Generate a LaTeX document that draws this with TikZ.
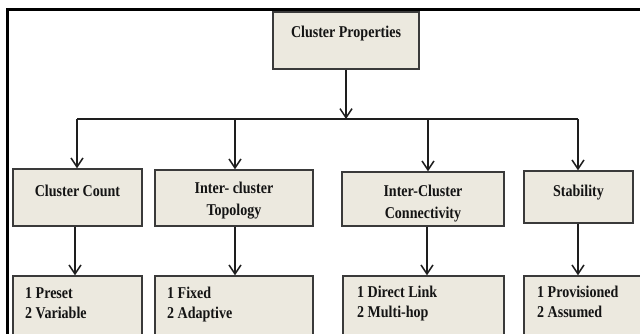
\documentclass[tikz,border=0pt]{standalone}
\usepackage{fontspec}
\setmainfont[FakeStretch=0.85]{Liberation Serif}
\usetikzlibrary{arrows.meta}
\definecolor{boxfill}{HTML}{ECE9DF}
\definecolor{boxline}{HTML}{3A3A3A}
\definecolor{arr}{HTML}{1E1E1E}
\definecolor{txt}{HTML}{141414}
\begin{document}
\begin{tikzpicture}[x=1pt,y=-1pt,
  box/.style={draw=boxline, line width=1.4pt, fill=boxfill, inner sep=0pt},
  lbl/.style={inner sep=0pt, font=\fontsize{16.5}{18}\selectfont\bfseries, text=txt},
  conn/.style={draw=arr, line width=1.5pt},
  arrow/.style={conn, -{Straight Barb[length=9pt,width=12pt,line width=1.5pt]}},
  frame/.style={draw=black, line width=3pt}]
\useasboundingbox (0,0) rectangle (640,333);
\clip (0,0) rectangle (640,333);
\fill[white] (0,0) rectangle (640,333);

% outer frame (left and top edges)
\coordinate (fbl) at (7.5,340);
\coordinate (ftl) at (7.5,9);
\coordinate (ftr) at (645,9);
\draw[frame] (fbl) -- (ftl) -- (ftr);

% top box
\node[box, minimum width=146pt, minimum height=57pt] (cp) at (346,40.5) {};
\node[lbl, anchor=base] (cpt) at (346,37) {Cluster Properties};

% level 2 boxes
\node[box, minimum width=129pt, minimum height=57pt] (cc) at (77.5,197.5) {};
\node[lbl, anchor=base] (cct) at (77.5,196) {Cluster Count};

\node[box, minimum width=158pt, minimum height=56pt] (ict) at (234,198) {};
\node[lbl, anchor=base] (icta) at (234,193) {Inter- cluster};
\node[lbl, anchor=base] (ictb) at (234,215) {Topology};

\node[box, minimum width=162pt, minimum height=54pt] (icc) at (423,199) {};
\node[lbl, anchor=base] (icca) at (423,196) {Inter-Cluster};
\node[lbl, anchor=base] (iccb) at (423,218) {Connectivity};

\node[box, minimum width=109pt, minimum height=52pt] (st) at (578.5,197) {};
\node[lbl, anchor=base] (stt) at (578.5,196) {Stability};

% level 3 boxes
\node[box, minimum width=129pt, minimum height=70pt] (cc3) at (77.5,311) {};
\node[lbl, anchor=base west] (cc3a) at (25,298) {1 Preset};
\node[lbl, anchor=base west] (cc3b) at (25,318) {2 Variable};

\node[box, minimum width=158pt, minimum height=70pt] (ict3) at (234,311) {};
\node[lbl, anchor=base west] (ict3a) at (167,298) {1 Fixed};
\node[lbl, anchor=base west] (ict3b) at (167,318) {2 Adaptive};

\node[box, minimum width=161pt, minimum height=70pt] (icc3) at (423.5,311) {};
\node[lbl, anchor=base west] (icc3a) at (357,297) {1 Direct Link};
\node[lbl, anchor=base west] (icc3b) at (357,317) {2 Multi-hop};

\node[box, minimum width=131pt, minimum height=70pt] (st3) at (589.5,311) {};
\node[lbl, anchor=base west] (st3a) at (537,297) {1 Provisioned};
\node[lbl, anchor=base west] (st3b) at (537,317) {2 Assumed};

% bus
\coordinate (bm) at (346,119);
\coordinate (b1) at (77,119);
\coordinate (b2) at (235,119);
\coordinate (b3) at (428,119);
\coordinate (b4) at (578,119);

\draw[arrow] (cp.south) -- (bm);
\draw[conn] (b1) -- (b4);
\draw[arrow] (b1) -- (b1 |- cc.north);
\draw[arrow] (b2) -- (b2 |- ict.north);
\draw[arrow] (b3) -- (b3 |- icc.north);
\draw[arrow] (b4) -- (b4 |- st.north);

\coordinate (c1) at (75,119);
\draw[arrow] (c1 |- cc.south) -- (c1 |- cc3.north);
\draw[arrow] (b2 |- ict.south) -- (b2 |- ict3.north);
\coordinate (c3) at (427,119);
\draw[arrow] (c3 |- icc.south) -- (c3 |- icc3.north);
\draw[arrow] (b4 |- st.south) -- (b4 |- st3.north);
\end{tikzpicture}
\end{document}
